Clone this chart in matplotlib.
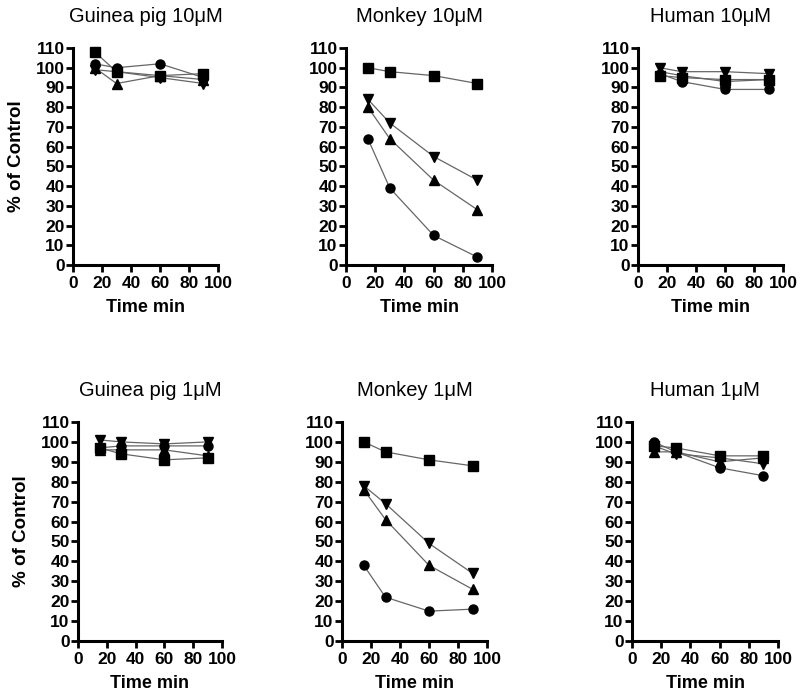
import matplotlib
matplotlib.use("Agg")
import matplotlib.pyplot as plt

plt.rcParams["font.family"] = ["Liberation Sans", "DejaVu Sans"]

TIME = [15, 30, 60, 90]

TITLES = ["Guinea pig 10μM", "Monkey 10μM", "Human 10μM",
          "Guinea pig 1μM", "Monkey 1μM", "Human 1μM"]

# per panel: circle, square, triangle-up, triangle-down
CIRCLE = [
    [102, 100, 102, 95],
    [64, 39, 15, 4],
    [97, 93, 89, 89],
    [97, 98, 98, 98],
    [38, 22, 15, 16],
    [100, 95, 87, 83],
]
SQUARE = [
    [108, 98, 96, 97],
    [100, 98, 96, 92],
    [96, 95, 94, 94],
    [97, 94, 91, 92],
    [100, 95, 91, 88],
    [98, 97, 93, 93],
]
TRI_UP = [
    [100, 92, 96, 94],
    [80, 64, 43, 28],
    [98, 96, 93, 94],
    [96, 96, 96, 93],
    [76, 61, 38, 26],
    [95, 95, 90, 92],
]
TRI_DOWN = [
    [99, 98, 95, 92],
    [84, 72, 55, 43],
    [100, 98, 98, 97],
    [101, 100, 99, 100],
    [78, 69, 49, 34],
    [98, 94, 92, 89],
]

# axes boxes in pixels: (left, right) per column, (top, bottom) per row
COLS = [[(73, 218), (346, 492), (638, 783)],
        [(78, 222), (342, 487), (632, 778)]]
ROWS = [(48, 265), (422, 641)]

W, H = 800, 693
fig = plt.figure(figsize=(W / 100, H / 100), dpi=100)

for i, title in enumerate(TITLES):
    r, c = divmod(i, 3)
    x0, x1 = COLS[r][c]
    y0, y1 = ROWS[r]
    ax = fig.add_axes([x0 / W, 1 - y1 / H, (x1 - x0) / W, (y1 - y0) / H])

    for vals, m in [(SQUARE[i], "s"), (CIRCLE[i], "o"),
                    (TRI_UP[i], "^"), (TRI_DOWN[i], "v")]:
        ax.plot(TIME, vals, color="#666666", lw=0.9, zorder=2)
        ax.plot(TIME, vals, ls="none", marker=m, ms=6.5, color="black",
                clip_on=False, zorder=3)

    ax.set_xlim(0, 100)
    ax.set_ylim(0, 110)
    ax.set_xticks(range(0, 101, 20))
    ax.set_yticks(range(0, 111, 10))
    ax.spines[["top", "right"]].set_visible(False)
    ax.spines[["left", "bottom"]].set_linewidth(2.2)
    ax.tick_params(width=2, length=5, labelsize=12.5, pad=1)
    ax.tick_params(axis="x", pad=3)
    for lab in ax.get_xticklabels() + ax.get_yticklabels():
        lab.set_fontweight("bold")
    ax.set_title(title, fontsize=14.5, pad=19)
    ax.set_xlabel("Time min", fontsize=13, fontweight="bold", labelpad=6)
    if c == 0:
        ax.set_ylabel("% of Control", fontsize=13.5, fontweight="bold",
                      labelpad=8)

fig.savefig("out.png", dpi=100)
